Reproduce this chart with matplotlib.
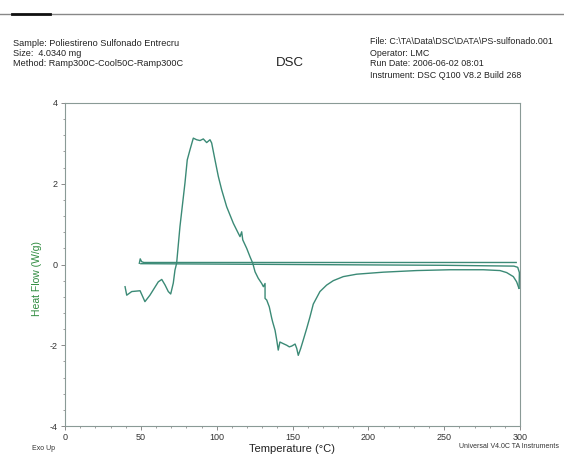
import matplotlib
matplotlib.use("Agg")
import matplotlib.pyplot as plt
from matplotlib.ticker import MultipleLocator
from matplotlib.lines import Line2D

plt.rcParams['font.family'] = ['Liberation Sans', 'DejaVu Sans']

# Heating 1 (first ramp)
heat1_T = [39.6, 40.7, 44.0, 49.5, 52.7, 56.0, 61.5, 63.8, 66.0, 68.1, 69.7, 71.4, 72.5, 73.6,
           75.8, 79.1, 80.6, 82.4, 84.6, 86.8, 89.0, 91.2, 93.4, 95.6, 96.7, 98.9, 101.1, 103.3,
           106.6, 111.0, 114.3, 115.4, 116.5, 117.2, 119.8, 122.0, 123.8, 125.3, 127.4, 129.7,
           130.8, 131.9, 131.9, 133.0, 134.7, 136.3, 136.9, 138.5, 139.6, 140.6, 141.7, 143.9,
           146.2, 147.9, 149.5, 151.7, 152.8, 153.8, 155.4, 157.1, 159.4, 161.5, 163.7, 168.1,
           172.5, 176.9, 183.5, 192.3, 209.9, 231.9, 253.8, 275.8, 286.8, 291.2, 295.6, 297.8, 299.3]
heat1_HF = [-0.55, -0.76, -0.67, -0.65, -0.92, -0.76, -0.43, -0.37, -0.51, -0.67, -0.73, -0.46, -0.14, 0.03,
            0.94, 2.02, 2.59, 2.84, 3.13, 3.09, 3.07, 3.11, 3.02, 3.09, 3.01, 2.59, 2.18, 1.85,
            1.43, 1.02, 0.77, 0.69, 0.81, 0.61, 0.40, 0.19, 0.03, -0.18, -0.34, -0.47,
            -0.55, -0.47, -0.84, -0.88, -1.05, -1.33, -1.42, -1.63, -1.87, -2.12, -1.92, -1.96,
            -2.00, -2.04, -2.02, -1.97, -2.08, -2.25, -2.08, -1.87, -1.58, -1.30, -0.98, -0.67,
            -0.51, -0.40, -0.30, -0.24, -0.19, -0.15, -0.13, -0.13, -0.15, -0.20, -0.30, -0.43, -0.59]

# Cooling 300 -> 50
cool_T = [299.4, 299.6, 298.5, 296.0, 250.0, 150.0, 52.0, 50.0]
cool_HF = [-0.59, -0.20, -0.07, -0.04, -0.02, 0.00, 0.02, 0.02]

# Heating 2 (second ramp)
heat2_T = [49.0, 49.6, 50.5, 52.0, 150.0, 250.0, 297.5]
heat2_HF = [0.03, 0.14, 0.07, 0.05, 0.05, 0.05, 0.05]

x_ticks = [0, 50, 100, 150, 200, 250, 300]
y_ticks = [-4, -2, 0, 2, 4]

W, H = 564, 457
fig = plt.figure(figsize=(W / 100, H / 100), dpi=100)
ax = fig.add_axes([65 / W, 1 - 426 / H, (520 - 65) / W, (426 - 103) / H])

line_color = '#3b8a76'
ax.plot(heat1_T, heat1_HF, color=line_color, lw=1.0)
ax.plot(cool_T, cool_HF, color=line_color, lw=1.0)
ax.plot(heat2_T, heat2_HF, color=line_color, lw=1.0)

ax.set_xlim(0, 300)
ax.set_ylim(-4, 4)
ax.set_xticks(x_ticks)
ax.set_yticks(y_ticks)
ax.set_xticklabels([str(v) for v in x_ticks])
ax.set_yticklabels([str(v) for v in y_ticks])
ax.xaxis.set_minor_locator(MultipleLocator(10))
ax.yaxis.set_minor_locator(MultipleLocator(0.4))
ax.tick_params(axis='both', which='major', direction='out', length=3, width=0.6,
               labelsize=6.5, colors='#777777', labelcolor='#333333', pad=2)
ax.tick_params(axis='both', which='minor', direction='out', length=1.5, width=0.5, colors='#777777')
for sp in ax.spines.values():
    sp.set_color('#8a9a96')
    sp.set_linewidth(0.8)

# axis titles
fig.text(37 / W, 1 - 278 / H, 'Heat Flow (W/g)', color='#2e8b3e', fontsize=7.5,
         rotation=90, ha='center', va='center')
fig.text(292 / W, 1 - 449 / H, 'Temperature (°C)', color='#222222', fontsize=8,
         ha='center', va='center')

# header texts
hdr = dict(fontsize=6.6, color='#222222', va='center', ha='left')
fig.text(13 / W, 1 - 43 / H, 'Sample: Poliestireno Sulfonado Entrecru', **hdr)
fig.text(13 / W, 1 - 53 / H, 'Size:  4.0340 mg', **hdr)
fig.text(13 / W, 1 - 64 / H, 'Method: Ramp300C-Cool50C-Ramp300C', **hdr)
fig.text(290 / W, 1 - 63 / H, 'DSC', fontsize=9.5, color='#222222', ha='center', va='center')
hdr_r = dict(fontsize=6.4, color='#222222', va='center', ha='left')
fig.text(370 / W, 1 - 42 / H, 'File: C:\\TA\\Data\\DSC\\DATA\\PS-sulfonado.001', **hdr_r)
fig.text(370 / W, 1 - 53 / H, 'Operator: LMC', **hdr_r)
fig.text(370 / W, 1 - 64 / H, 'Run Date: 2006-06-02 08:01', **hdr_r)
fig.text(370 / W, 1 - 75 / H, 'Instrument: DSC Q100 V8.2 Build 268', **hdr_r)

fig.text(32 / W, 1 - 449 / H, 'Exo Up', fontsize=5, color='#333333', ha='left', va='center')
fig.text(459 / W, 1 - 447 / H, 'Universal V4.0C TA Instruments', fontsize=5, color='#333333',
         ha='left', va='center')

# top scan border line
fig.add_artist(Line2D([0, 1], [1 - 14 / H, 1 - 14 / H], color='#888888', lw=1.0,
                      transform=fig.transFigure))
fig.add_artist(Line2D([12 / W, 50 / W], [1 - 14 / H, 1 - 14 / H], color='#111111', lw=2.0,
                      transform=fig.transFigure))

fig.savefig('out.png', dpi=100)
